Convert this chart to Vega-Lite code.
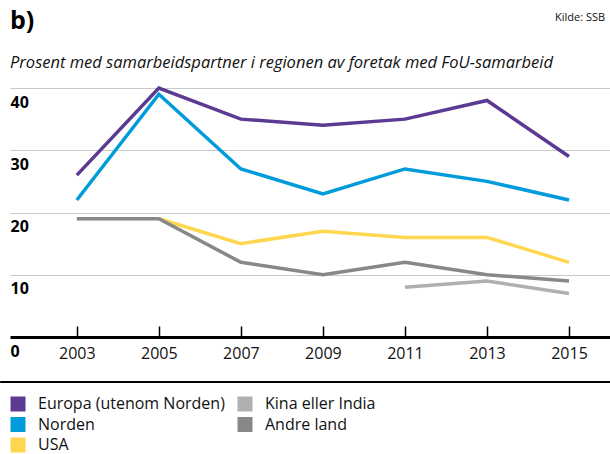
{
  "$schema": "https://vega.github.io/schema/vega-lite/v6.json",
  "autosize": "none",
  "padding": {"left": 10, "top": 88, "right": 0, "bottom": 117},
  "width": 600,
  "height": 249,
  "background": "white",
  "config": {"view": {"stroke": null}, "font": "Open Sans"},
  "title": {
    "text": "b)",
    "subtitle": "Prosent med samarbeidspartner i regionen av foretak med FoU-samarbeid",
    "anchor": "start",
    "frame": "group",
    "font": "Open Sans",
    "fontSize": 25,
    "fontWeight": "bold",
    "color": "#000000",
    "subtitleFont": "Open Sans",
    "subtitleFontSize": 16.5,
    "subtitleFontStyle": "italic",
    "subtitleColor": "#111111",
    "subtitlePadding": 21,
    "offset": -59
  },
  "layer": [
    {
      "data": {"values": [{"k": 1}]},
      "mark": {"type": "rule", "color": "#000000", "strokeWidth": 2},
      "encoding": {
        "y": {"datum": -7.23, "type": "quantitative"},
        "x": {"datum": 2001.13, "type": "quantitative"},
        "x2": {"datum": 2016}
      }
    },
    {
      "data": {"values": [
        {"year": 2003, "series": "Europa (utenom Norden)", "value": 26},
        {"year": 2005, "series": "Europa (utenom Norden)", "value": 40},
        {"year": 2007, "series": "Europa (utenom Norden)", "value": 35},
        {"year": 2009, "series": "Europa (utenom Norden)", "value": 34},
        {"year": 2011, "series": "Europa (utenom Norden)", "value": 35},
        {"year": 2013, "series": "Europa (utenom Norden)", "value": 38},
        {"year": 2015, "series": "Europa (utenom Norden)", "value": 29},
        {"year": 2003, "series": "Norden", "value": 22},
        {"year": 2005, "series": "Norden", "value": 39},
        {"year": 2007, "series": "Norden", "value": 27},
        {"year": 2009, "series": "Norden", "value": 23},
        {"year": 2011, "series": "Norden", "value": 27},
        {"year": 2013, "series": "Norden", "value": 25},
        {"year": 2015, "series": "Norden", "value": 22},
        {"year": 2005, "series": "USA", "value": 19},
        {"year": 2007, "series": "USA", "value": 15},
        {"year": 2009, "series": "USA", "value": 17},
        {"year": 2011, "series": "USA", "value": 16},
        {"year": 2013, "series": "USA", "value": 16},
        {"year": 2015, "series": "USA", "value": 12},
        {"year": 2011, "series": "Kina eller India", "value": 8},
        {"year": 2013, "series": "Kina eller India", "value": 9},
        {"year": 2015, "series": "Kina eller India", "value": 7},
        {"year": 2003, "series": "Andre land", "value": 19},
        {"year": 2005, "series": "Andre land", "value": 19},
        {"year": 2007, "series": "Andre land", "value": 12},
        {"year": 2009, "series": "Andre land", "value": 10},
        {"year": 2011, "series": "Andre land", "value": 12},
        {"year": 2013, "series": "Andre land", "value": 10},
        {"year": 2015, "series": "Andre land", "value": 9}
      ]},
      "mark": {"type": "line", "strokeWidth": 3.5, "strokeCap": "butt"},
      "encoding": {
        "x": {
          "field": "year", "type": "quantitative",
          "scale": {"domain": [2001.37, 2016], "nice": false, "zero": false},
          "axis": {
            "title": null, "values": [2003, 2005, 2007, 2009, 2011, 2013, 2015], "format": "d",
            "grid": false, "domain": true, "domainColor": "#000000", "domainWidth": 3,
            "ticks": true, "tickSize": -11, "tickColor": "#000000", "tickWidth": 1.5,
            "labelPadding": 19, "labelFontSize": 16, "labelColor": "#111111", "labelFont": "Open Sans",
            "labelBaseline": "top"
          }
        },
        "y": {
          "field": "value", "type": "quantitative",
          "scale": {"domain": [0, 40], "nice": false},
          "axis": {
            "title": null, "values": [0, 10, 20, 30, 40], "grid": true, "gridColor": "#c8c8c8", "gridWidth": 1,
            "domain": false, "ticks": false, "labelAlign": "left", "labelBaseline": "top", "labelOffset": 6,
            "labelPadding": 0, "labelFontSize": 16, "labelFontWeight": "bold", "labelColor": "#000000", "labelFont": "Open Sans"
          }
        },
        "detail": {"field": "series"},
        "color": {
          "field": "series", "type": "nominal",
          "scale": {
            "domain": ["Europa (utenom Norden)", "Norden", "USA", "Kina eller India", "Andre land"],
            "range": ["#5b3a92", "#009bdb", "#ffd64f", "#b0b0b0", "#888888"]
          },
          "legend": {
            "title": null, "orient": "none", "legendX": 0, "legendY": 308, "columns": 2,
            "symbolType": "square", "symbolSize": 225, "symbolStrokeWidth": 0,
            "labelFontSize": 16, "labelFont": "Open Sans", "labelColor": "#111111", "labelOffset": 12, "labelLimit": 400,
            "rowPadding": 4.5, "columnPadding": 12, "padding": 0, "symbolOffset": 0,
            "encode": {"symbols": {"update": {"fill": {"scale": "color", "field": "value"}, "fillOpacity": {"value": 1}, "strokeWidth": {"value": 0}}}}
          }
        }
      }
    },
    {
      "data": {"values": [{"t": "Kilde: SSB"}]},
      "mark": {"type": "text", "align": "right", "baseline": "middle", "fontSize": 11, "color": "#111111", "font": "Open Sans"},
      "encoding": {
        "text": {"field": "t"},
        "x": {"datum": 2015.88, "type": "quantitative"},
        "y": {"datum": 51.2, "type": "quantitative"}
      }
    }
  ]
}
